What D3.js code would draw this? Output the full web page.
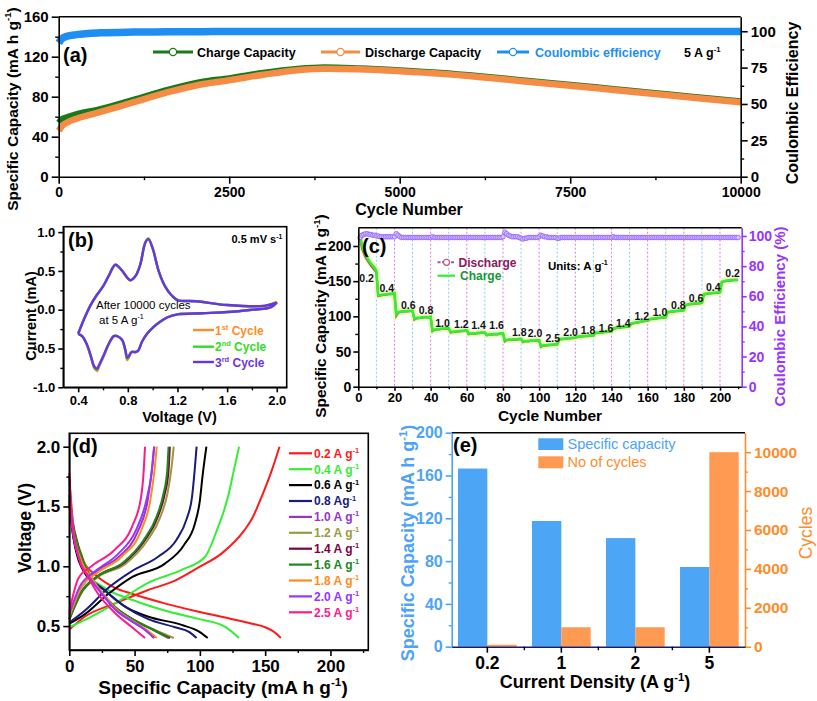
<!DOCTYPE html>
<html><head><meta charset="utf-8">
<script src="https://cdn.jsdelivr.net/npm/d3@7"></script>
<style>body{margin:0;background:#fff;}</style>
</head><body>
<script>
// ---------------- DATA ----------------
// (a) long cycling at 5 A/g
const cyclesA = [1, 40, 120, 260, 600, 1100, 1600, 2100, 2500, 3000, 3500, 3900, 4400, 5000, 5600, 6200, 6800, 7500, 8100, 8700, 9300, 10000];
const chargeA = [54, 57.5, 59.5, 62.5, 67.5, 77, 87, 95, 98.5, 104, 108, 109.5, 108.5, 106.5, 104, 100.5, 96.5, 92, 88, 84, 80, 75.5];
const dischargeA = [46, 50, 54, 58, 64.5, 74.5, 84.5, 92.5, 96.5, 102, 106.5, 108, 107.5, 105.5, 103, 99.5, 95.5, 91, 87, 83, 79, 74.5];
const ceA = [92, 94.5, 96.5, 97.7, 98.9, 99.4, 99.6, 99.7, 99.8, 99.8, 99.8, 99.8, 99.8, 99.8, 99.8, 99.8, 99.8, 99.8, 99.8, 99.8, 99.8, 99.8];
const ticksAx = [0, 2500, 5000, 7500, 10000];
const ticksAy = [0, 40, 80, 120, 160];
const ticksAy2 = [0, 25, 50, 75, 100];

// (b) CV after 10000 cycles
const cvVolt = [0.40,0.45,0.50,0.55,0.60,0.65,0.70,0.75,0.82,0.86,0.90,0.94,0.965,1.00,1.05,1.10,1.15,1.20,1.35,1.60,1.90,2.00,
  2.00,1.95,1.80,1.60,1.40,1.20,1.116,1.06,1.008,0.955,0.915,0.882,0.86,0.83,0.807,0.795,0.78,0.754,0.714,0.687,0.647,0.606,0.566,0.553,0.531,0.50,0.467,0.432,0.40];
const cvCycle1 = [-0.31,-0.11,0.06,0.19,0.30,0.45,0.58,0.51,0.38,0.43,0.59,0.87,0.92,0.80,0.49,0.30,0.19,0.125,0.11,0.06,0.05,0.10,
  0.10,0.03,0.0,-0.03,-0.045,-0.06,-0.10,-0.155,-0.22,-0.31,-0.41,-0.53,-0.55,-0.55,-0.62,-0.65,-0.53,-0.39,-0.34,-0.34,-0.44,-0.60,-0.74,-0.79,-0.76,-0.60,-0.44,-0.34,-0.31];
const cvCycle2 = [-0.31,-0.11,0.06,0.19,0.30,0.45,0.58,0.51,0.38,0.43,0.58,0.86,0.915,0.79,0.49,0.30,0.19,0.125,0.11,0.06,0.05,0.09,
  0.09,0.03,0.0,-0.03,-0.045,-0.06,-0.10,-0.155,-0.22,-0.31,-0.41,-0.53,-0.545,-0.545,-0.61,-0.635,-0.52,-0.39,-0.34,-0.34,-0.44,-0.59,-0.73,-0.775,-0.745,-0.59,-0.44,-0.34,-0.31];
const cvCycle3 = [-0.31,-0.11,0.06,0.19,0.30,0.45,0.58,0.51,0.38,0.43,0.58,0.86,0.91,0.79,0.49,0.30,0.19,0.125,0.11,0.06,0.05,0.09,
  0.09,0.03,0.0,-0.03,-0.045,-0.06,-0.10,-0.155,-0.22,-0.31,-0.41,-0.53,-0.545,-0.545,-0.60,-0.62,-0.52,-0.39,-0.34,-0.34,-0.435,-0.585,-0.72,-0.76,-0.735,-0.585,-0.435,-0.34,-0.31];
const ticksBx = [0.4, 0.8, 1.2, 1.6, 2.0];
const ticksBy = [-1.0, -0.5, 0.0, 0.5, 1.0];

// (c) rate capability
const chargeC = [214,202,194,188,183,179,175,172,169,165,
 130,130,130.5,131,131,131.5,132,132,132.5,133,
 103,106,106.5,107,107,107.5,107.5,108,108,108,
 97,97.5,98,98,98.5,98.5,99,99,99,99.5,
 80,81,81.5,82,82,82.5,82.5,83,83,83,
 78,78,78.5,78.5,79,79,79.5,79.5,80,80,
 75.5,75.5,76,76,76,76.5,76.5,77,77,77,
 74,74,74.5,74.5,75,75,75,75.5,75.5,76,
 66,66.5,67,67,67,67.5,67.5,67.5,68,68,
 64.5,65,65,65,65.5,65.5,65.5,66,66,66,
 58,58.5,59,59,59.5,59.5,60,60,60.5,60.5,
 67.5,68,68,68.5,68.5,69,69,69.5,69.5,70,
 71,71.5,71.5,72,72,72.5,72.5,73,73,73,
 76.5,77,77,77.5,77.5,78,78,78.5,78.5,79,
 83,83.5,84,84,84.5,85,85,85.5,85.5,86,
 90,90.5,91,91.5,92,92.5,93,93.5,94,94,
 96,96.5,97,97,97.5,98,98,98.5,98.5,99,
 106,106.5,107,107,107.5,108,108,108.5,108.5,109,
 116,117,117.5,118,118,118.5,118.5,119,119,119.5,
 131,132,132.5,133,133,133.5,133.5,134,134,134.5,
 149,150,150.5,151,151,151.5,151.5,152,152,152];
const dischargeC = [212,197,190,184,180,176,172,169,166,162,
 129,129.5,130,130.5,130.5,131,131.5,131.5,132,132.5,
 101,105,106,106.5,106.5,107,107,107.5,107.5,107.5,
 95.5,97,97.5,97.5,98,98,98.5,98.5,98.5,99,
 79,80.5,81,81.5,81.5,82,82,82.5,82.5,82.5,
 77,77.5,78,78,78.5,78.5,79,79,79.5,79.5,
 74.5,75,75.5,75.5,75.5,76,76,76.5,76.5,76.5,
 73,73.5,74,74,74.5,74.5,74.5,75,75,75.5,
 64.5,66,66.5,66.5,66.5,67,67,67,67.5,67.5,
 63.5,64.5,64.5,64.5,65,65,65,65.5,65.5,65.5,
 56.5,58,58.5,58.5,59,59,59.5,59.5,60,60,
 67,67.5,67.5,68,68,68.5,68.5,69,69,69.5,
 70.5,71,71,71.5,71.5,72,72,72.5,72.5,72.5,
 76,76.5,76.5,77,77,77.5,77.5,78,78,78.5,
 82.5,83,83.5,83.5,84,84.5,84.5,85,85,85.5,
 89.5,90,90.5,91,91.5,92,92.5,93,93.5,93.5,
 95.5,96,96.5,96.5,97,97.5,97.5,98,98,98.5,
 105.5,106,106.5,106.5,107,107.5,107.5,108,108,108.5,
 115.5,116.5,117,117.5,117.5,118,118,118.5,118.5,119,
 130.5,131.5,132,132.5,132.5,133,133,133.5,133.5,134,
 148.5,149.5,150,150.5,150.5,151,151,151.5,151.5,151.5];
const ceC = [99,100.5,101,101.5,101.5,101,101,100.5,100.5,100,
 100,99.5,99.5,99.5,99.5,99.5,99.5,99.5,99.5,99.5,
 101.5,100.5,99.5,99,99,99,99,99,99,99,
 99,99,99,99,99,99,99,99,99,99,
 99.5,99,99,99,99,99,99,99,99,99,
 99,99,99,99,99,99,99,99,99,99,
 99,99,99,99,99,99,99,99,99,99,
 99,99,99,99,99,99,99,99,99,99.5,
 102.5,101.5,100.5,100,99.5,99.5,99.5,99.5,99,98.5,
 98,98.5,98.5,99,99,99,99,99,99,99.5,
 100.5,100,99.5,99.5,99,99,99,99,99,98.5,
 98.5,99,99,99,99,99,99,99,99,99,
 99,99,99,99,99,99,99,99,99,99,
 99,99,99,99,99,99,99,99,99,99,
 99.5,99,99,99,99,99,99,99,99,99,
 99,99,99,99,99,99,99,99,99,99,
 99,99,99,99,99,99,99,99,99,99,
 99,99,99,99,99,99,99,99,99,99,
 99,99,99,99,99,99,99,99,99,99,
 99,99,99,99,99,99,99,99,99,99,
 99,99,99,99,99,99,99,99,99,99];
const gridC = [10,20,30,40,50,60,70,80,90,100,110,120,130,140,150,160,170,180,190,200];
const stepLabelsC = ["0.2","0.4","0.6","0.8","1.0","1.2","1.4","1.6","1.8","2.0","2.5","2.0","1.8","1.6","1.4","1.2","1.0","0.8","0.6","0.4","0.2"];
const stepLabelCycleC = [4.6,15.7,27.6,37.4,46.6,57,66.5,76.5,89,97.7,107.5,117.4,127,137,146.6,156.7,166.8,177,186.7,196.3,207];
const stepLabelCapC = [154,140.7,116,109,90,89,87.7,87.7,78,76,68.7,77.3,80.6,84,90,101,105.7,116,126.5,142,161];

// (d) GCD profiles
const ratesD = ["0.2","0.4","0.6","0.8","1.0","1.2","1.4","1.6","1.8","2.0","2.5"];
const colorsD = ["#ff1a1a","#33ee33","#000000","#1a1a80","#9933cc","#9a9a40","#800040","#1a8a1a","#ff8c1a","#9933ff","#ff1a8c"];
const chargeD = [
 [[0,0.47],[12,0.58],[35,0.69],[60,0.80],[81,0.88],[99,0.99],[117,1.11],[134,1.30],[140,1.40],[148,1.60],[155,1.80],[161,2.0]],
 [[0,0.49],[17,0.58],[35,0.69],[60,0.86],[86,0.97],[104,1.08],[114,1.33],[118,1.45],[122,1.60],[126,1.80],[130,2.0]],
 [[0,0.52],[12,0.60],[30,0.77],[48,0.91],[73,1.02],[88,1.18],[96,1.35],[100,1.55],[102,1.75],[105,2.0]],
 [[0,0.53],[12,0.63],[30,0.82],[48,0.96],[68,1.08],[82,1.22],[90,1.40],[94,1.58],[96,1.80],[97.5,2.0]],
 [[0,0.58],[8,0.80],[20,0.95],[38,1.08],[52,1.28],[60,1.55],[63,1.78],[65,2.0]],
 [[0,0.55],[9,0.77],[22,0.91],[43,1.02],[60,1.22],[70,1.42],[75,1.60],[78,1.80],[80,2.0]],
 [[0,0.56],[9,0.78],[22,0.92],[42,1.03],[58,1.22],[68,1.42],[73,1.60],[76,1.80],[77,2.0]],
 [[0,0.56],[9,0.78],[22,0.92],[41,1.03],[57,1.22],[67,1.42],[72,1.60],[75,1.80],[76,2.0]],
 [[0,0.58],[9,0.82],[22,0.95],[40,1.08],[55,1.30],[62,1.55],[65,1.78],[67,2.0]],
 [[0,0.60],[8,0.83],[20,0.96],[37,1.10],[51,1.30],[59,1.55],[63,1.78],[65,2.0]],
 [[0,0.62],[7,0.90],[17,1.00],[35,1.14],[48,1.33],[55,1.58],[57,1.80],[58,2.0]]];
const dischargeD = [
 [[0,1.75],[3,1.35],[9,1.08],[22,0.91],[35,0.82],[48,0.77],[73,0.69],[99,0.62],[124,0.56],[140,0.52],[150,0.49],[157,0.45],[162,0.40]],
 [[0,1.70],[3,1.30],[12,0.97],[27,0.82],[48,0.72],[73,0.63],[99,0.56],[120,0.49],[130,0.40]],
 [[0,1.55],[3,1.25],[12,0.94],[27,0.80],[43,0.66],[60,0.58],[86,0.51],[100,0.45],[106,0.40]],
 [[0,1.60],[3,1.25],[12,0.97],[27,0.80],[43,0.66],[60,0.56],[81,0.49],[92,0.45],[97.5,0.40]],
 [[0,1.60],[3,1.30],[8,1.05],[16,0.90],[25,0.77],[36,0.63],[48,0.54],[58,0.47],[65,0.40]],
 [[0,1.55],[4,1.30],[12,1.02],[22,0.82],[35,0.66],[48,0.56],[63,0.48],[80,0.40]],
 [[0,1.50],[4,1.28],[12,1.00],[22,0.82],[35,0.66],[48,0.56],[62,0.48],[77,0.40]],
 [[0,1.52],[4,1.28],[12,1.00],[22,0.82],[35,0.66],[48,0.56],[62,0.48],[76,0.40]],
 [[0,1.60],[3,1.30],[9,1.05],[17,0.90],[26,0.77],[37,0.63],[49,0.54],[59,0.47],[67,0.40]],
 [[0,1.65],[3,1.30],[8,1.05],[16,0.90],[25,0.77],[36,0.63],[48,0.54],[58,0.47],[65,0.40]],
 [[0,1.78],[2,1.36],[7,1.08],[14.5,0.91],[22,0.77],[35,0.61],[48,0.49],[58,0.40]]];

// (e) summary bars
const densityE = ["0.2", "1", "2", "5"];
const capacityE = [166.5, 117.5, 101.5, 74.5];
const cyclesE = [100, 1000, 1000, 10000];

// ---------------- DRAWING ----------------
const FONT = '"Liberation Sans", Arial, Helvetica, sans-serif';
const svg = d3.select("body").append("svg").attr("width", 817).attr("height", 701)
  .attr("font-family", FONT);
svg.append("rect").attr("width", 817).attr("height", 701).attr("fill", "#fff");

function axis(x, y, ax, color, fs, weight) {
  const g = svg.append("g").attr("transform", `translate(${x},${y})`).call(ax);
  g.attr("font-family", FONT).attr("font-size", fs);
  g.select(".domain").attr("stroke", color).attr("stroke-width", 1.6);
  g.selectAll(".tick line").attr("stroke", color).attr("stroke-width", 1.6);
  g.selectAll(".tick text").attr("fill", color).attr("font-weight", weight || "bold");
  return g;
}
function minor(x, y, ax, color) {
  const g = svg.append("g").attr("transform", `translate(${x},${y})`).call(ax.tickFormat(() => ""));
  g.select(".domain").remove();
  g.selectAll(".tick line").attr("stroke", color).attr("stroke-width", 1.4);
}
function label(x, y, parts, o) {
  o = o || {};
  const fs = o.fs || 14;
  const t = svg.append("text").attr("x", x).attr("y", y).attr("font-size", fs)
    .attr("font-weight", o.weight || "bold").attr("fill", o.color || "#000")
    .attr("text-anchor", o.anchor || "start");
  if (o.rotate) t.attr("transform", `rotate(${o.rotate},${x},${y})`);
  if (o.baseline) t.attr("dominant-baseline", o.baseline);
  let up = false;
  (typeof parts === "string" ? [[parts, false]] : parts).forEach(([s, sup]) => {
    const sp = t.append("tspan").text(s);
    if (sup) { sp.attr("font-size", fs * 0.62); if (!up) { sp.attr("dy", -fs * 0.4); up = true; } }
    else if (up) { sp.attr("dy", fs * 0.4); up = false; }
  });
  return t;
}
function hline(x1, x2, y, color, w) {
  svg.append("line").attr("x1", x1).attr("x2", x2).attr("y1", y).attr("y2", y)
    .attr("stroke", color).attr("stroke-width", w || 1.6);
}
function vline(x, y1, y2, color, w) {
  svg.append("line").attr("x1", x).attr("x2", x).attr("y1", y1).attr("y2", y2)
    .attr("stroke", color).attr("stroke-width", w || 1.6);
}
const fmt1 = d => d.toFixed(1);

// ===== (a) =====
const A = {l: 58.7, r: 740.7, t: 16.7, b: 176.7};
const xA = d3.scaleLinear().domain([0, 10000]).range([A.l, A.r]);
const yA = d3.scaleLinear().domain([0, 160]).range([A.b, A.t]);
const yA2 = d3.scaleLinear().domain([0, 110]).range([A.b, A.t]);
const lnA = (scale) => d3.line().x((d, i) => xA(cyclesA[i])).y(d => scale(d)).curve(d3.curveMonotoneX);
svg.append("path").attr("d", lnA(yA2)(ceA)).attr("fill", "none").attr("stroke", "#1e8ef2").attr("stroke-width", 7.5);
svg.append("path").attr("d", lnA(yA)(chargeA)).attr("fill", "none").attr("stroke", "#187a18").attr("stroke-width", 6);
svg.append("path").attr("d", lnA(yA)(dischargeA)).attr("fill", "none").attr("stroke", "#f58c46").attr("stroke-width", 6.5);
hline(A.l, A.r, A.t, "#000");
axis(A.l, 0, d3.axisLeft(yA).tickValues(ticksAy).tickSize(7).tickSizeOuter(0).tickPadding(3), "#000", 15);
minor(A.l, 0, d3.axisLeft(yA).tickValues([20, 60, 100, 140]).tickSize(3.5), "#000");
axis(0, A.b, d3.axisBottom(xA).tickValues(ticksAx).tickFormat(d3.format("d")).tickSize(7).tickSizeOuter(0).tickPadding(3), "#000", 14);
minor(0, A.b, d3.axisBottom(xA).tickValues([1250, 3750, 6250, 8750]).tickSize(3.5), "#000");
axis(A.r, 0, d3.axisRight(yA2).tickValues(ticksAy2).tickSize(7).tickSizeOuter(0).tickPadding(3), "#000", 15);
minor(A.r, 0, d3.axisRight(yA2).tickValues([12.5, 37.5, 62.5, 87.5]).tickSize(3.5), "#000");
label(17.5, 109, [["Specific Capacity (mA h g", false], ["-1", true], [")", false]], {fs: 15.5, rotate: -90, anchor: "middle"});
label(798, 103, "Coulombic Efficiency", {fs: 16, rotate: -90, anchor: "middle"});
label(409, 215, "Cycle Number", {fs: 16, anchor: "middle"});
label(63, 62, "(a)", {fs: 20});
// legend (a)
[[153, 193, "#187a18", "Charge Capacity", 197, "#000"], [321, 360, "#f58c46", "Discharge Capacity", 365, "#000"],
 [497, 529, "#1e8ef2", "Coulombic efficiency", 535, "#1e8ef2"]].forEach(([x1, x2, c, t, tx, tc]) => {
  hline(x1, x2, 52, c, 3);
  svg.append("circle").attr("cx", (x1 + x2) / 2).attr("cy", 52).attr("r", 3.6).attr("fill", "#fff").attr("stroke", c).attr("stroke-width", 1.2);
  label(tx, 56.5, t, {fs: 12.5, color: tc});
});
label(684, 56.5, [["5 A g", false], ["-1", true]], {fs: 12.5});

// ===== (b) =====
const B = {l: 63.3, r: 286.7, t: 226.7, b: 387.3};
const xB = d3.scaleLinear().domain([0.28, 2.08]).range([B.l, B.r]);
const yB = d3.scaleLinear().domain([-1, 1.07]).range([B.b, B.t]);
const lnB = d3.line().x((d, i) => xB(cvVolt[i])).y(d => yB(d)).curve(d3.curveCatmullRom);
[[cvCycle1, "#ff8c28"], [cvCycle2, "#33dd22"], [cvCycle3, "#6a35e8"]].forEach(([arr, c]) => {
  svg.append("path").attr("d", lnB(arr)).attr("fill", "none").attr("stroke", c).attr("stroke-width", 2.4);
});
svg.append("rect").attr("x", B.l).attr("y", B.t).attr("width", B.r - B.l).attr("height", B.b - B.t).attr("fill", "none").attr("stroke", "#000").attr("stroke-width", 1.6);
axis(B.l, 0, d3.axisLeft(yB).tickValues(ticksBy).tickFormat(fmt1).tickSize(5).tickSizeOuter(0).tickPadding(3), "#000", 13);
minor(B.l, 0, d3.axisLeft(yB).tickValues([-0.75, -0.25, 0.25, 0.75]).tickSize(3), "#000");
axis(0, B.b, d3.axisBottom(xB).tickValues(ticksBx).tickFormat(fmt1).tickSize(5).tickSizeOuter(0).tickPadding(3), "#000", 13);
minor(0, B.b, d3.axisBottom(xB).tickValues([0.6, 1.0, 1.4, 1.8]).tickSize(3), "#000");
label(36, 316, "Current (mA)", {fs: 14.5, rotate: -90, anchor: "middle"});
label(179.5, 422, "Voltage (V)", {fs: 14.5, anchor: "middle"});
label(68, 247, "(b)", {fs: 20});
label(231.5, 243, [["0.5 mV s", false], ["-1", true]], {fs: 11});
label(96, 309, "After 10000 cycles", {fs: 11.5, weight: "normal"});
label(99, 324, [["at 5 A g", false], ["-1", true]], {fs: 11.5, weight: "normal"});
[["st", "#ff8c28", 330], ["nd", "#33dd22", 346.7], ["rd", "#6a35e8", 362]].forEach(([s, c, y], i) => {
  hline(193, 214, y, c, 2.4);
  label(215, y + 4.5, [[String(i + 1), false], [s, true], [" Cycle", false]], {fs: 12, color: c});
});

// ===== (c) =====
const C = {l: 358.3, r: 741.7, t: 227.7, b: 386.7};
const xC = d3.scaleLinear().domain([0, 212]).range([C.l, C.r]);
const yC = d3.scaleLinear().domain([0, 226]).range([C.b, C.t]);
const yC2 = d3.scaleLinear().domain([0, 105.5]).range([C.b, C.t]);
gridC.forEach((g, i) => {
  svg.append("line").attr("x1", xC(g)).attr("x2", xC(g)).attr("y1", C.t).attr("y2", C.b)
    .attr("stroke", i % 2 === 0 ? "#8cc8f0" : "#e07ae0").attr("stroke-width", 1).attr("stroke-dasharray", "2,2");
});
const lnC = (s) => d3.line().x((d, i) => xC(i + 1)).y(d => s(d));
svg.append("path").attr("d", lnC(yC)(chargeC)).attr("fill", "none").attr("stroke", "#eef6c8").attr("stroke-width", 7);
svg.append("path").attr("d", lnC(yC)(dischargeC)).attr("fill", "none").attr("stroke", "#b06048").attr("stroke-width", 2.2);
svg.append("path").attr("d", lnC(yC)(chargeC)).attr("fill", "none").attr("stroke", "#33ee33").attr("stroke-width", 2.6);
svg.append("path").attr("d", lnC(yC2)(ceC)).attr("fill", "none").attr("stroke", "#9966ff").attr("stroke-width", 1.2);
svg.append("g").selectAll("circle").data(ceC).join("circle")
  .attr("cx", (d, i) => xC(i + 1)).attr("cy", d => yC2(d)).attr("r", 2.3)
  .attr("fill", "#d6c6ff").attr("stroke", "#9966ff").attr("stroke-width", 0.9);
stepLabelsC.forEach((t, i) => {
  label(xC(stepLabelCycleC[i]), yC(stepLabelCapC[i]), t, {fs: 10.5, anchor: "middle", baseline: "central", color: "#111"});
});
hline(C.l, C.r, C.t, "#000");
axis(C.l, 0, d3.axisLeft(yC).tickValues([0, 50, 100, 150, 200]).tickSize(5).tickSizeOuter(0).tickPadding(2), "#000", 14);
minor(C.l, 0, d3.axisLeft(yC).tickValues([25, 75, 125, 175]).tickSize(3), "#000");
axis(0, C.b, d3.axisBottom(xC).tickValues(d3.range(0, 201, 20)).tickSize(4).tickSizeOuter(0).tickPadding(2), "#000", 13);
minor(0, C.b, d3.axisBottom(xC).tickValues(d3.range(10, 211, 20)).tickSize(2.5), "#000");
axis(C.r, 0, d3.axisRight(yC2).tickValues([0, 20, 40, 60, 80, 100]).tickSize(5).tickSizeOuter(0).tickPadding(2), "#9933ff", 14);
minor(C.r, 0, d3.axisRight(yC2).tickValues([10, 30, 50, 70, 90]).tickSize(3), "#9933ff");
label(326, 316, [["Specific Capacity (mA h g", false], ["-1", true], [")", false]], {fs: 15.5, rotate: -90, anchor: "middle"});
label(785, 316.5, "Coulombic Efficiency (%)", {fs: 15, rotate: -90, anchor: "middle", color: "#9933ff"});
label(550, 421, "Cycle Number", {fs: 15.5, anchor: "middle"});
label(362, 253, "(c)", {fs: 20});
svg.append("line").attr("x1", 437.5).attr("x2", 455).attr("y1", 262.3).attr("y2", 262.3).attr("stroke", "#9955cc").attr("stroke-width", 2).attr("stroke-dasharray", "3,1.5");
svg.append("circle").attr("cx", 446.5).attr("cy", 262.3).attr("r", 3).attr("fill", "#fff").attr("stroke", "#c06080").attr("stroke-width", 1.2);
label(458.5, 266.5, "Discharge", {fs: 12, color: "#8b1a5a"});
hline(437.5, 455, 275.7, "#33ee33", 2.2);
label(460, 280, "Charge", {fs: 12, color: "#119933"});
label(548, 270, [["Units: A g", false], ["-1", true]], {fs: 11.5});

// ===== (d) =====
const D = {l: 69.3, r: 368.3, t: 433.3, b: 650};
const xD = d3.scaleLinear().domain([0, 229]).range([D.l, D.r]);
const yD = d3.scaleLinear().domain([0.3, 2.112]).range([D.b, D.t]);
const lnD = d3.line().x(d => xD(d[0])).y(d => yD(d[1])).curve(d3.curveMonotoneX);
ratesD.forEach((r, i) => {
  svg.append("path").attr("d", lnD(chargeD[i])).attr("fill", "none").attr("stroke", colorsD[i]).attr("stroke-width", 2);
  svg.append("path").attr("d", lnD(dischargeD[i])).attr("fill", "none").attr("stroke", colorsD[i]).attr("stroke-width", 2);
});
svg.append("rect").attr("x", D.l).attr("y", D.t).attr("width", D.r - D.l).attr("height", D.b - D.t).attr("fill", "none").attr("stroke", "#000").attr("stroke-width", 1.6);
axis(D.l, 0, d3.axisLeft(yD).tickValues([0.5, 1.0, 1.5, 2.0]).tickFormat(fmt1).tickSize(6).tickSizeOuter(0).tickPadding(3), "#000", 17);
minor(D.l, 0, d3.axisLeft(yD).tickValues([0.75, 1.25, 1.75]).tickSize(3), "#000");
axis(0, D.b, d3.axisBottom(xD).tickValues([0, 50, 100, 150, 200]).tickSize(6).tickSizeOuter(0).tickPadding(4), "#000", 17);
minor(0, D.b, d3.axisBottom(xD).tickValues([25, 75, 125, 175, 225]).tickSize(3), "#000");
label(31, 528, "Voltage (V)", {fs: 17.5, rotate: -90, anchor: "middle"});
label(223, 694, [["Specific Capacity (mA h g", false], ["-1", true], [")", false]], {fs: 19, anchor: "middle"});
label(72, 453, "(d)", {fs: 20});
ratesD.forEach((r, i) => {
  const y = 453.3 + i * 15.9;
  hline(289, 312, y, colorsD[i], 2.2);
  const txt = r === "0.8" ? r + " Ag" : (r === "1.6" ? r + "  A g" : r + " A g");
  label(314, y + 4.3, [[txt, false], ["-1", true]], {fs: 12, color: colorsD[i]});
});

// ===== (e) =====
const E = {l: 451.7, r: 745, t: 432.7, b: 646.7};
const xE = d3.scaleBand().domain(densityE).range([E.l, E.r]).paddingInner(0.207).paddingOuter(0.085);
const yE = d3.scaleLinear().domain([0, 200]).range([E.b, E.t]);
const yE2 = d3.scaleLinear().domain([0, 11000]).range([E.b, E.t]);
const bw = xE.bandwidth() / 2;
svg.append("g").selectAll("rect").data(densityE).join("rect")
  .attr("x", d => xE(d)).attr("width", bw)
  .attr("y", (d, i) => yE(capacityE[i])).attr("height", (d, i) => E.b - yE(capacityE[i]))
  .attr("fill", "#4da6f5");
svg.append("g").selectAll("rect").data(densityE).join("rect")
  .attr("x", d => xE(d) + bw).attr("width", bw)
  .attr("y", (d, i) => yE2(cyclesE[i])).attr("height", (d, i) => E.b - yE2(cyclesE[i]))
  .attr("fill", "#ff9a52");
hline(E.l, E.r, E.t, "#000");
axis(E.l, 0, d3.axisLeft(yE).tickValues([0, 40, 80, 120, 160, 200]).tickSize(6).tickSizeOuter(0).tickPadding(3), "#4da3f7", 16);
minor(E.l, 0, d3.axisLeft(yE).tickValues([20, 60, 100, 140, 180]).tickSize(3), "#4da3f7");
axis(E.r, 0, d3.axisRight(yE2).tickValues([0, 2000, 4000, 6000, 8000, 10000]).tickFormat(d3.format("d")).tickSize(6).tickSizeOuter(0).tickPadding(3), "#ff8c2a", 15.5);
minor(E.r, 0, d3.axisRight(yE2).tickValues([1000, 3000, 5000, 7000, 9000]).tickSize(3), "#ff8c2a");
const gEx = axis(0, E.b, d3.axisBottom(xE).tickSize(6).tickSizeOuter(0).tickPadding(4), "#000", 17.5);
gEx.select(".domain").attr("stroke", "#1b1b6b");
densityE.slice(1).forEach(d => {
  const xm = xE(d) - xE.step() * xE.paddingInner() / 2;
  vline(xm, E.b, E.b + 3.5, "#000", 1.4);
});
label(414, 543, [["Specific Capacity (mA h g", false], ["-1", true], [")", false]], {fs: 18, rotate: -90, anchor: "middle", color: "#4da3f7"});
label(812, 533, "Cycles", {fs: 17.5, rotate: -90, anchor: "middle", color: "#ff8c2a", weight: "normal"});
label(595, 688, [["Current Density (A g", false], ["-1", true], [")", false]], {fs: 18, anchor: "middle"});
label(453, 452, "(e)", {fs: 20});
svg.append("rect").attr("x", 538.3).attr("y", 438.3).attr("width", 25).attr("height", 11.7).attr("fill", "#4da6f5");
label(567.5, 449, "Specific capacity", {fs: 14.5, weight: "normal", color: "#4da3f7"});
svg.append("rect").attr("x", 538.3).attr("y", 456.3).attr("width", 25).attr("height", 12).attr("fill", "#ff9a52");
label(567.5, 467, "No of cycles", {fs: 14.5, weight: "normal", color: "#ff8c2a"});
</script>
</body></html>
